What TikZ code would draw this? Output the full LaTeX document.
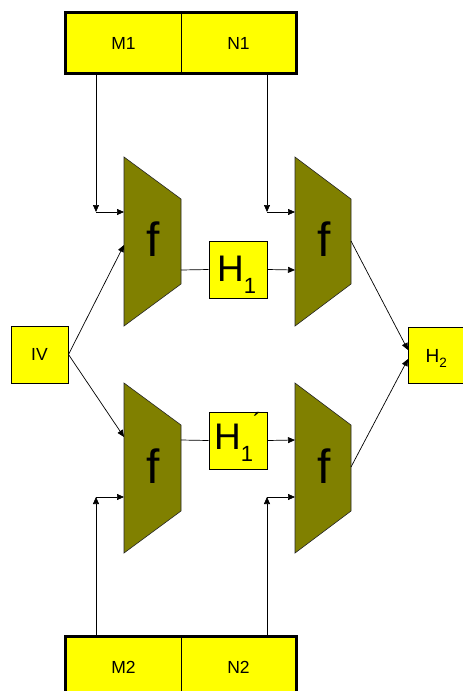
\documentclass[tikz,border=0pt]{standalone}
\usepackage{fontspec}
\setmainfont{Liberation Sans}
\usetikzlibrary{arrows.meta}
\definecolor{trapfill}{HTML}{808000}
\definecolor{boxyellow}{HTML}{FFFF00}
\begin{document}
\begin{tikzpicture}[x=1pt,y=-1pt,
  ybox/.style={draw=black, fill=boxyellow, line width=1pt, inner sep=0pt},
  trap/.style={draw=black!85, fill=trapfill, line width=0.6pt},
  conn/.style={draw=black, line width=0.7pt},
  arr/.style={conn, -{Triangle[length=7pt,width=6pt]}},
  lbl/.style={font=\fontsize{17.5}{17.5}\selectfont},
  ftext/.style={font=\fontsize{48}{48}\selectfont, anchor=base, inner sep=0pt},
  htext/.style={anchor=base west, inner sep=0pt}]
\useasboundingbox (0,0) rectangle (463,691);

% top and bottom split boxes
\node[ybox, lbl, minimum width=115pt, minimum height=60pt] (m1) at (123.5,43) {M1};
\node[ybox, lbl, minimum width=115pt, minimum height=60pt] (n1) at (238.5,43) {N1};
\draw[line width=3pt] (m1.north west) rectangle (n1.south east);
\node[ybox, lbl, minimum width=115pt, minimum height=60pt] (m2) at (123.5,667) {M2};
\node[ybox, lbl, minimum width=115pt, minimum height=60pt] (n2) at (238.5,667) {N2};
\draw[line width=3pt] (m2.north west) rectangle (n2.south east);

% side boxes
\node[ybox, lbl, minimum width=57pt, minimum height=57pt] (iv) at (39.5,354.5) {IV};
\node[ybox, minimum width=60pt, minimum height=56pt] (h2) at (438,355) {};
\node[htext] (h2t) at (425.5,362) {\fontsize{19}{19}\selectfont H\raisebox{-5pt}{\fontsize{13.5}{13.5}\selectfont 2}};

% middle boxes
\node[ybox, minimum width=58pt, minimum height=57pt] (h1) at (238,269.5) {};
\node[htext] (h1t) at (217,281) {\fontsize{37}{37}\selectfont H\raisebox{-12pt}{\fontsize{22}{22}\selectfont 1}};
\node[ybox, minimum width=58pt, minimum height=57pt] (h1p) at (238,440.5) {};
\node[htext] (h1pt) at (214,449) {\fontsize{37}{37}\selectfont H\raisebox{-12pt}{\fontsize{22}{22}\selectfont 1}\raisebox{18pt}{\fontsize{26}{26}\selectfont ´}};

% trapezoids
\draw[trap] (124,157) -- (181,199) -- (181,284) -- (124,326) -- cycle;
\draw[trap] (295,157) -- (351,199) -- (351,284) -- (295,326) -- cycle;
\draw[trap] (124,383) -- (181,425) -- (181,511) -- (124,553) -- cycle;
\draw[trap] (295,383) -- (351,425) -- (351,511) -- (295,553) -- cycle;
\node[ftext] (f1) at (153,256) {f};
\node[ftext] (f2) at (324,256) {f};
\node[ftext] (f3) at (153,483) {f};
\node[ftext] (f4) at (324,483) {f};

% connection points
\coordinate (tlin1) at (124,212);
\coordinate (tlin2) at (124,245);
\coordinate (tlout) at (181,270);
\coordinate (trin1) at (295,212);
\coordinate (trin2) at (295,270);
\coordinate (trout) at (351,241);
\coordinate (blin1) at (124,437);
\coordinate (blin2) at (124,497);
\coordinate (blout) at (181,440);
\coordinate (brin1) at (295,440);
\coordinate (brin2) at (295,497);
\coordinate (brout) at (351,467);
\coordinate (c1) at (96,212);
\coordinate (c2) at (267,212);
\coordinate (c3) at (96,497);
\coordinate (c4) at (267,497);
\coordinate (h2a) at (408,350);
\coordinate (h2b) at (408,359);

% connectors
\draw[arr] (c1 |- m1.south) -- (c1);
\draw[arr] (c1) -- (tlin1);
\draw[arr] (c2 |- n1.south) -- (c2);
\draw[arr] (c2) -- (trin1);
\draw[arr] (c3 |- m2.north) -- (c3);
\draw[arr] (c3) -- (blin2);
\draw[arr] (c4 |- n2.north) -- (c4);
\draw[arr] (c4) -- (brin2);
\draw[arr] (iv.east) -- (tlin2);
\draw[arr] (iv.east) -- (blin1);
\draw[conn] (tlout) -- (h1.west);
\draw[arr] (h1.east) -- (trin2);
\draw[conn] (blout) -- (h1p.west);
\draw[arr] (h1p.east) -- (brin1);
\draw[arr] (trout) -- (h2a);
\draw[arr] (brout) -- (h2b);
\end{tikzpicture}
\end{document}
